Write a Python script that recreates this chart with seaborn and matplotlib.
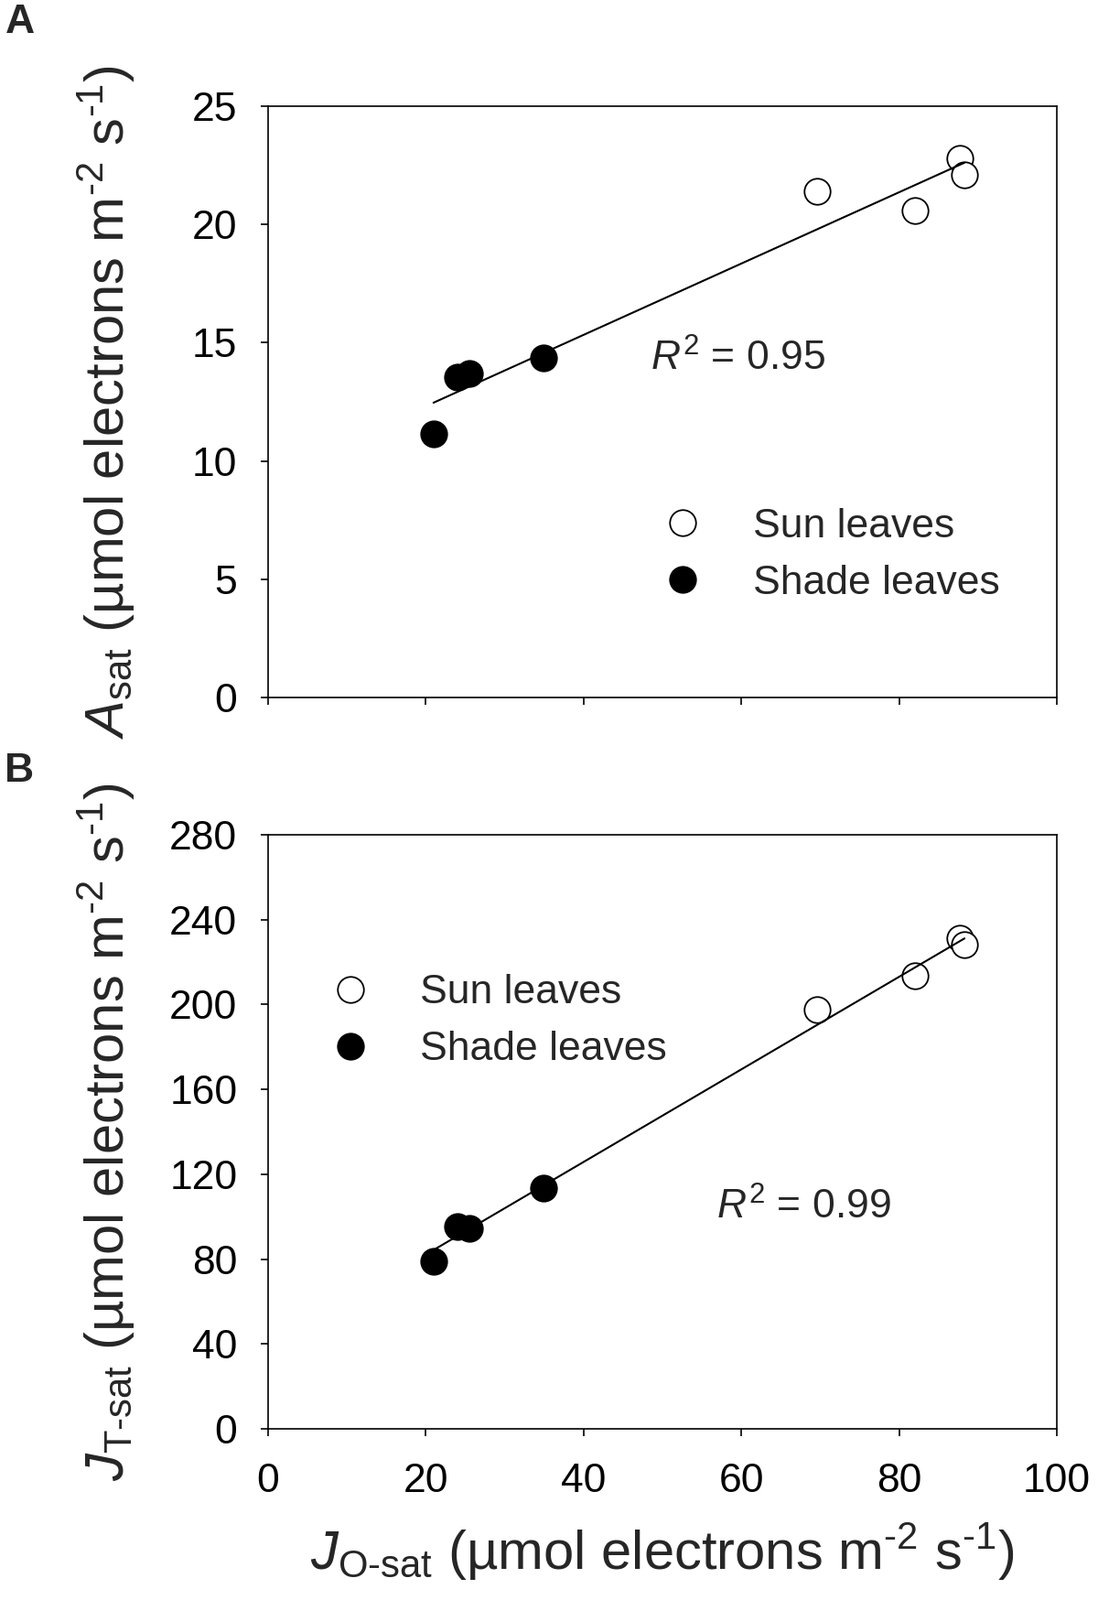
import numpy as np
import pandas as pd
import matplotlib
matplotlib.use("Agg")
import matplotlib.pyplot as plt
import seaborn as sns
from matplotlib.lines import Line2D

# values (same leaves in both panels)
leaf = ["Sun leaves"] * 4 + ["Shade leaves"] * 4
j_o_sat = [69.6, 82.0, 87.7, 88.3, 21.0, 24.0, 25.5, 35.0]
a_sat = [21.4, 20.6, 22.8, 22.1, 11.15, 13.55, 13.7, 14.35]
j_t_sat = [197.6, 213.5, 231.3, 228.0, 79.0, 95.4, 94.5, 113.3]

r2_a = "0.95"
r2_b = "0.99"

x_ticks = [0, 20, 40, 60, 80, 100]
a_ticks = [0, 5, 10, 15, 20, 25]
b_ticks = [0, 40, 80, 120, 160, 200, 240, 280]

df = pd.DataFrame({"j_o": j_o_sat, "a": a_sat, "j_t": j_t_sat, "leaf": leaf})

sns.set_theme(style="white")
plt.rcParams["font.family"] = ["Liberation Sans", "DejaVu Sans"]
plt.rcParams["mathtext.fontset"] = "custom"
plt.rcParams["mathtext.rm"] = "Liberation Sans"
plt.rcParams["mathtext.it"] = "Liberation Sans:italic"
plt.rcParams["axes.edgecolor"] = "black"
plt.rcParams["axes.linewidth"] = 1.2

fig = plt.figure(figsize=(12, 17.48), dpi=100)
ax_a = fig.add_axes([0.2439, 0.5641, 0.7186, 0.3696])
ax_b = fig.add_axes([0.2439, 0.1070, 0.7186, 0.3713])

unit = "(µmol electrons m$^{\\text{-2}}$ s$^{\\text{-1}}$)"


def draw_panel(ax, ycol, yticks, r2, r2_pos, legend_pos):
    sun = df[df["leaf"] == "Sun leaves"]
    shade = df[df["leaf"] == "Shade leaves"]
    sns.scatterplot(data=sun, x="j_o", y=ycol, ax=ax, s=420, facecolor="white",
                    edgecolor="black", linewidth=1.3, zorder=3, legend=False)
    sns.scatterplot(data=shade, x="j_o", y=ycol, ax=ax, s=420, color="black",
                    edgecolor="black", linewidth=1.3, zorder=3, legend=False)
    sns.regplot(data=df, x="j_o", y=ycol, ax=ax, scatter=False, ci=None,
                color="black", line_kws={"lw": 1.5, "zorder": 4})

    ax.set_xlim(0, 100)
    ax.set_ylim(yticks[0], yticks[-1])
    ax.set_xticks(x_ticks)
    ax.set_yticks(yticks)
    ax.tick_params(direction="out", length=6, width=1.2, labelsize=32,
                   colors="black", bottom=True, left=True)
    ax.tick_params(axis="y", pad=18)
    ax.tick_params(axis="x", pad=21)
    for s in ax.spines.values():
        s.set_color("black")
        s.set_linewidth(1.2)

    ax.text(r2_pos[0], r2_pos[1], "$\\mathit{R}^2$ = " + r2, transform=ax.transAxes,
            fontsize=32, va="baseline", ha="left")

    handles = [
        Line2D([], [], marker="o", ls="", markersize=20.5, mfc="white", mec="black", mew=1.3),
        Line2D([], [], marker="o", ls="", markersize=20.5, mfc="black", mec="black", mew=1.3),
    ]
    ax.legend(handles, ["Sun leaves", "Shade leaves"], loc="center left",
              bbox_to_anchor=legend_pos, frameon=False, fontsize=32,
              handlelength=1.0, handletextpad=1.22, labelspacing=0.48,
              borderpad=0, borderaxespad=0)


draw_panel(ax_a, "a", a_ticks, r2_a, (0.485, 0.553), (0.5, 0.241))
draw_panel(ax_b, "j_t", b_ticks, r2_b, (0.569, 0.353), (0.079, 0.686))

ax_a.set_xticklabels([])
ax_a.set_xlabel("")
ax_a.set_ylabel("$\\mathit{A}_{\\mathrm{sat}}$ " + unit, fontsize=43)
ax_a.yaxis.set_label_coords(-0.165, 0.5)

ax_b.set_ylabel("$\\mathit{J}_{\\mathrm{T\\text{-}sat}}$ " + unit, fontsize=43)
ax_b.yaxis.set_label_coords(-0.165, 0.5)
ax_b.set_xlabel("$\\mathit{J}_{\\mathrm{O\\text{-}sat}}$ " + unit, fontsize=43)
ax_b.xaxis.set_label_coords(0.5, -0.155)

fig.text(0.005, 1 - 4 / 1748, "A", fontsize=32, fontweight="bold", va="top", ha="left")
fig.text(0.004, 1 - 822 / 1748, "B", fontsize=32, fontweight="bold", va="top", ha="left")

fig.savefig("out.png", dpi=100)
